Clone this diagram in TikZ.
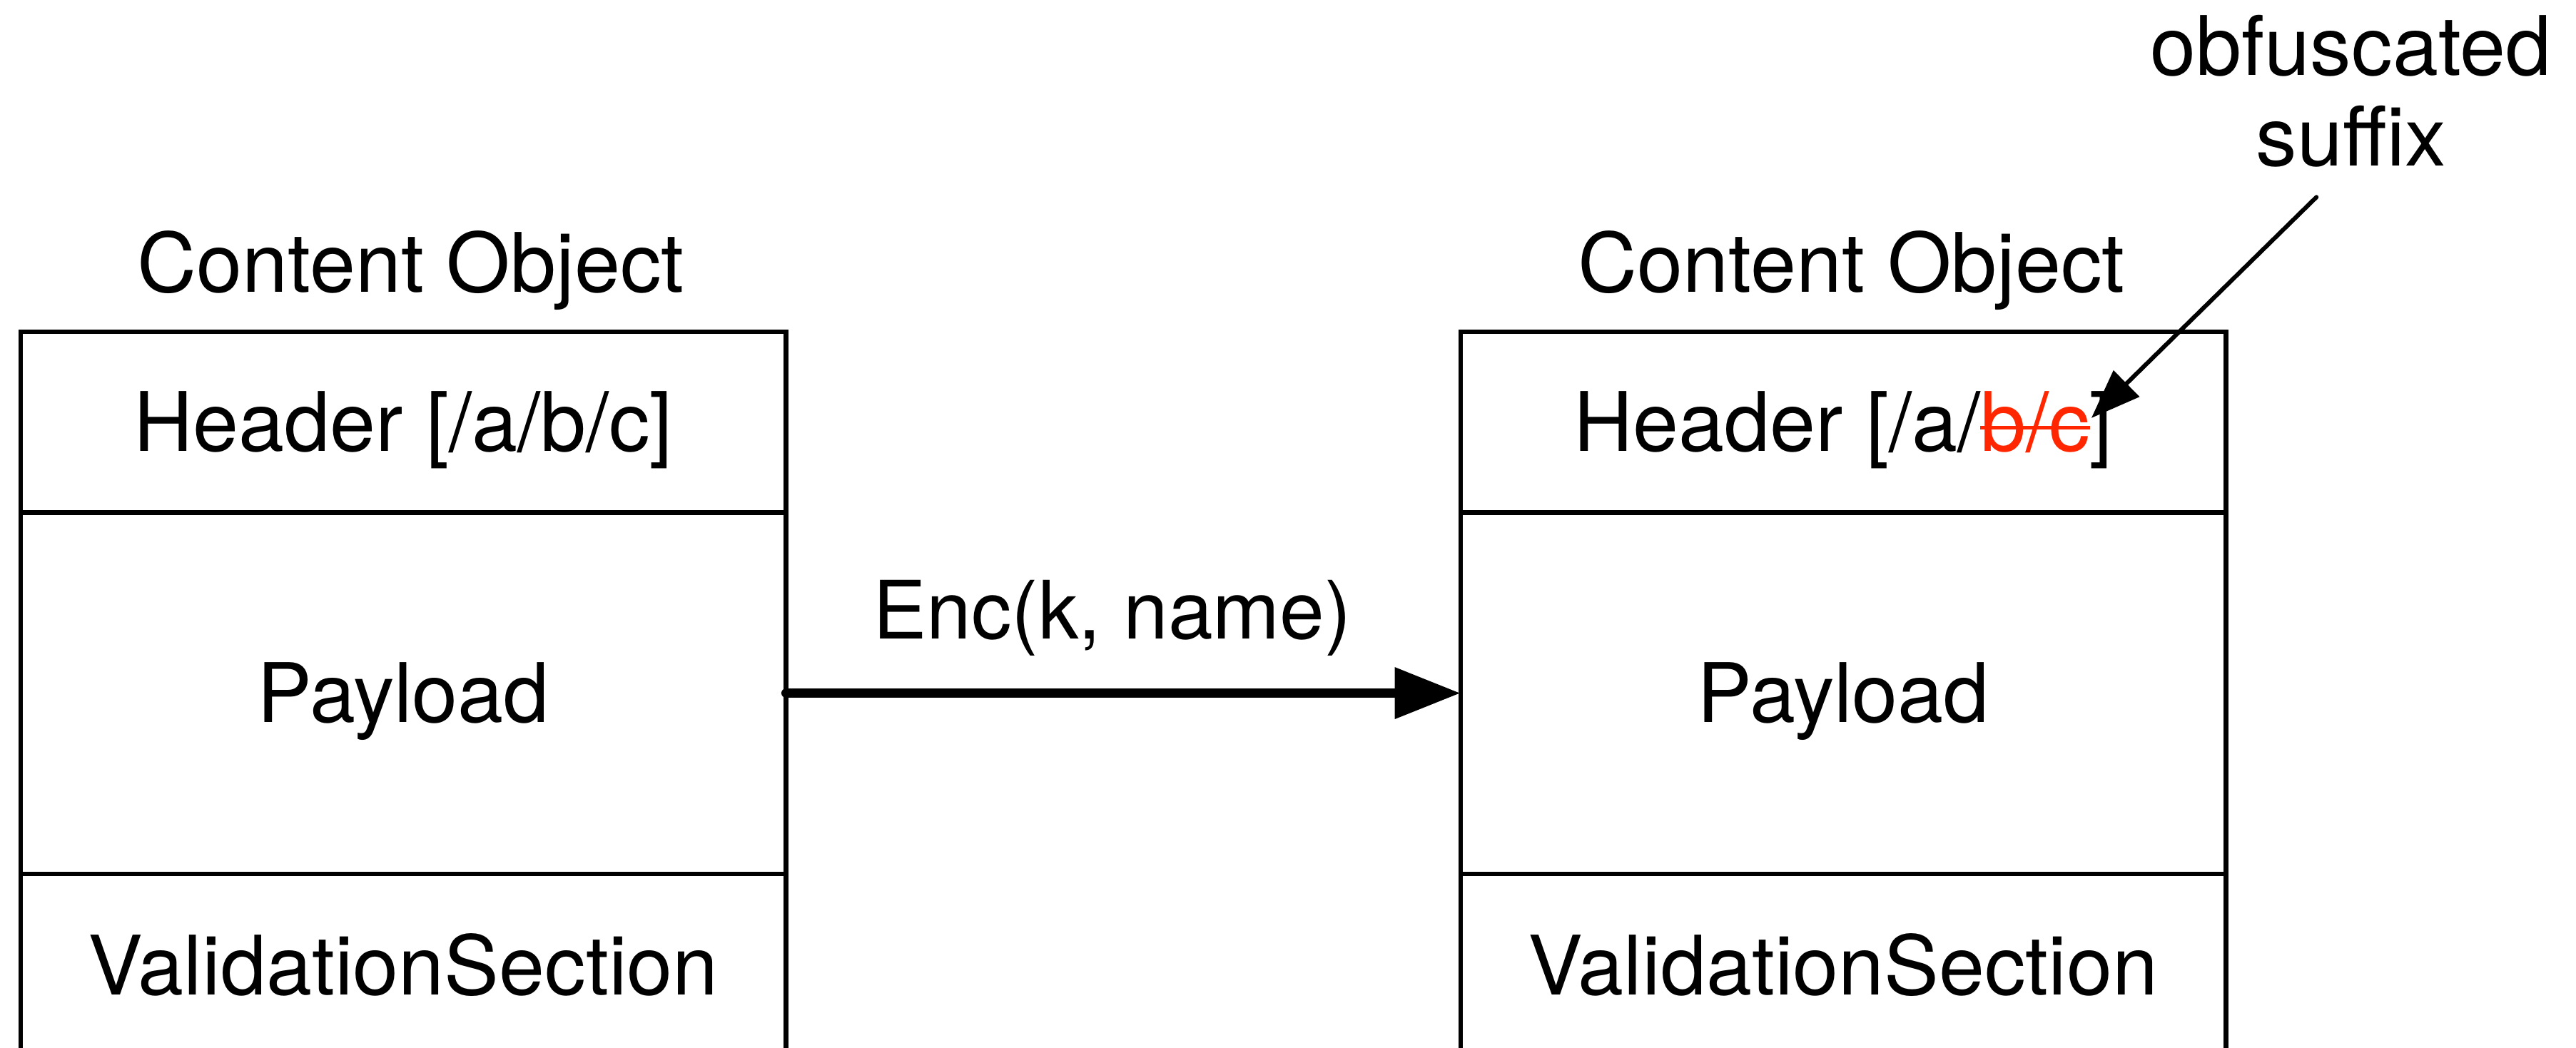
\documentclass[tikz,border=0pt]{standalone}
\usepackage{fontspec}
\setmainfont{TeX Gyre Heros}
\usetikzlibrary{positioning,arrows.meta}
\definecolor{obfred}{RGB}{255,38,0}
% red text with a line through it
\newcommand\redstrike[1]{{\color{obfred}\setbox0\hbox{#1}\rlap{\copy0}\rule[0.27em]{\wd0}{0.045em}}}
\tikzset{
  section/.style={draw, line width=1.4pt, minimum width=233pt, inner sep=0pt,
    outer sep=0pt, text height=17.9pt, text depth=0pt,
    font=\fontsize{25}{29}\selectfont},
  title/.style={inner sep=0pt, text height=17.9pt, text depth=0pt,
    font=\fontsize{25}{29}\selectfont},
  encarrow/.style={line width=2.9pt, line cap=round,
    -{Triangle[length=20pt,width=15pt]}},
  notearrow/.style={line width=1.3pt, line cap=round,
    -{Triangle[length=15pt,width=11pt]}}
}
\begin{document}
\begin{tikzpicture}[x=0.5pt, y=-0.5pt]
  \clip (0,0) rectangle (1568,638);

  % plain object
  \node[section, minimum height=55pt] (hdrA) at (245.5,257) {Header [/a/b/c]};
  \node[section, minimum height=110pt, below=0pt of hdrA] (payA) {Payload};
  \node[section, minimum height=56pt, below=0pt of payA] (valA) {ValidationSection};
  \node[title] (titleA) at (250,160) {Content Object};

  % encrypted object
  \node[section, minimum height=55pt] (hdrB) at (1122,257)
    {Header [/a/\redstrike{b/c}]};
  \node[section, minimum height=110pt, below=0pt of hdrB] (payB) {Payload};
  \node[section, minimum height=56pt, below=0pt of payB] (valB) {ValidationSection};
  \node[title] (titleB) at (1127,160) {Content Object};

  % encryption step
  \draw[encarrow] (payA.east) -- (payB.west);
  \node[title, font=\fontsize{24.5}{29}\selectfont] (enc) at (677,371) {Enc(k, name)};

  % callout
  \node[inner sep=0pt, anchor=north, align=center,
    font=\fontsize{25}{27.5}\selectfont] (note) at (1431,9) {obfuscated\\suffix};
  \coordinate (noteTail) at (1410,120);
  \coordinate (suffixTip) at (1273,254.5);
  \draw[notearrow] (noteTail) -- (suffixTip);
\end{tikzpicture}
\end{document}
